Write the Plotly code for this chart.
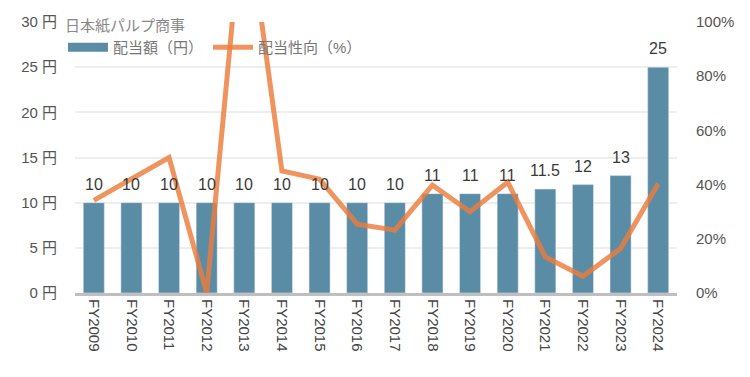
import plotly.graph_objects as go

years = ["FY2009", "FY2010", "FY2011", "FY2012", "FY2013", "FY2014", "FY2015", "FY2016",
         "FY2017", "FY2018", "FY2019", "FY2020", "FY2021", "FY2022", "FY2023", "FY2024"]
dividend = [10, 10, 10, 10, 10, 10, 10, 10, 10, 11, 11, 11, 11.5, 12, 13, 25]
payout_pct = [34.2, 42.0, 50.0, 0.0, 147.0, 45.0, 42.0, 25.4, 23.2, 39.8, 30.0, 40.9, 13.3, 6.2, 16.4, 40.3]
dividend_labels = ["10", "10", "10", "10", "10", "10", "10", "10", "10", "11", "11", "11", "11.5", "12", "13", "25"]

FONT = "Liberation Sans, Arial, Noto Sans CJK JP, sans-serif"
BAR_COLOR = "#5b8ca6"

fig = go.Figure()
fig.add_trace(go.Bar(
    x=years, y=dividend, name="配当額（円）",
    marker=dict(color=BAR_COLOR),
    width=0.56, showlegend=False,
))
# legend proxy giving the wide rectangular swatch for the bars
fig.add_trace(go.Scatter(
    x=[None], y=[None], name="配当額（円）", mode="lines",
    line=dict(color=BAR_COLOR, width=9), showlegend=True,
))
fig.add_trace(go.Scatter(
    x=years, y=[p / 100 for p in payout_pct], name="配当性向（%）",
    mode="lines", yaxis="y2",
    line=dict(color="rgba(237,125,60,0.82)", width=5),
))

for yr, v, lab in zip(years, dividend, dividend_labels):
    fig.add_annotation(x=yr, y=v, xref="x", yref="y", text=lab, showarrow=False,
                       yanchor="bottom", yshift=8,
                       font=dict(size=16, color="#3a3a3a", family=FONT))

fig.update_layout(
    width=750, height=377,
    margin=dict(l=75, r=73, t=21, b=84),
    paper_bgcolor="white", plot_bgcolor="white",
    font=dict(family=FONT, size=15, color="#555555"),
    showlegend=True,
    legend=dict(
        title=dict(text="日本紙パルプ商事", side="top", font=dict(size=15, color="#888888")),
        orientation="h", x=-0.02, y=1.035, xanchor="left", yanchor="top",
        bgcolor="rgba(0,0,0,0)", font=dict(size=15, color="#777777"),
        itemwidth=40, tracegroupgap=0,
    ),
    xaxis=dict(
        tickangle=90, showgrid=False, showline=True, linecolor="#bfbfbf", linewidth=3,
        tickfont=dict(size=15, color="#444444"), ticks="", automargin=False,
    ),
    yaxis=dict(
        range=[0, 30], dtick=5, ticksuffix=" 円", showgrid=True, gridcolor="#eeeeee",
        gridwidth=2, zeroline=False, tickfont=dict(size=15, color="#555555"),
        ticklabelstandoff=17, automargin=False,
    ),
    yaxis2=dict(
        range=[0, 1], dtick=0.2, tickformat=".0%", overlaying="y", side="right",
        showgrid=False, zeroline=False, tickfont=dict(size=15, color="#555555"),
        ticklabelstandoff=18, automargin=False,
    ),
)

fig.write_html("out.html", config={"displayModeBar": False},
               post_script="document.body.style.margin='0';")
